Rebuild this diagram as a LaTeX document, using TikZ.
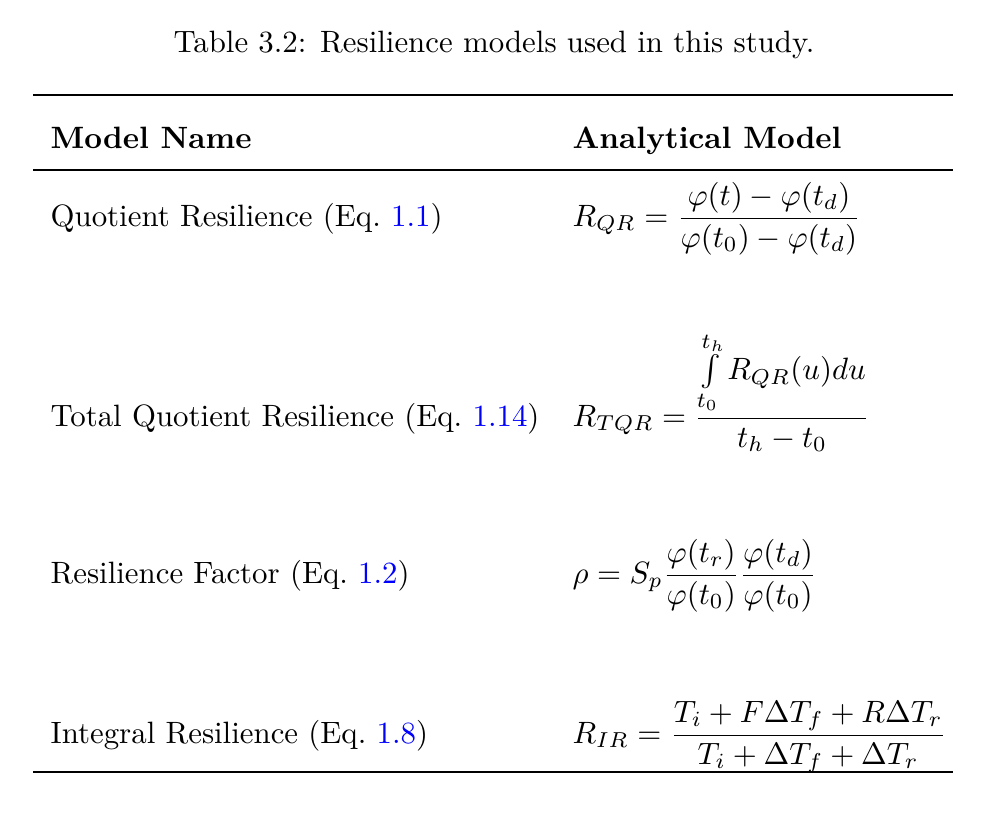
\documentclass[tikz,border=0pt]{standalone}
\usepackage{tikz}
\usepackage{amsmath,amssymb}
\usepackage{xcolor}
\usetikzlibrary{positioning}

\begin{document}
\begin{tikzpicture}[x=0.324pt,y=-0.324pt,
    cell/.style={anchor=base west, inner sep=0pt},
    eqref/.style={text=blue}]
      \useasboundingbox (0,0) rectangle (1001,819);
      \node[anchor=base, inner sep=0pt] (title) at (494,52) {Table 3.2: Resilience models used in this study.};
      % rules
      \coordinate (topl) at (33,95);   \coordinate (topr) at (953,95);
      \coordinate (midl) at (33,170);  \coordinate (midr) at (953,170);
      \coordinate (botl) at (33,772);  \coordinate (botr) at (953,772);
      \draw[line width=0.7pt] (topl) -- (topr);
      \draw[line width=0.45pt] (midl) -- (midr);
      \draw[line width=0.7pt] (botl) -- (botr);
      % header
      \node[cell] (hname) at (50,148) {\textbf{Model Name}};
      \node[cell] (hmodel) at (572,148) {\textbf{Analytical Model}};
      % model names
      \node[cell] (qr) at (50,226) {Quotient Resilience (Eq.~\textcolor{blue}{1.1})};
      \node[cell] (tqr) at (50,426) {Total Quotient Resilience (Eq.~\textcolor{blue}{1.14})};
      \node[cell] (rf) at (50,583) {Resilience Factor (Eq.~\textcolor{blue}{1.2})};
      \node[cell] (ir) at (50,743) {Integral Resilience (Eq.~\textcolor{blue}{1.8})};
      % models
      \node[cell] (qrm) at (572,226) {$R_{QR}=\dfrac{\varphi(t)-\varphi(t_d)}{\varphi(t_0)-\varphi(t_d)}$};
      \node[cell] (tqrm) at (572,426) {$R_{TQR}=\dfrac{\int\limits_{t_0}^{t_h}R_{QR}(u)du}{t_h-t_0}$};
      \node[cell] (rfm) at (572,583) {$\rho=S_p\dfrac{\varphi(t_r)}{\varphi(t_0)}\dfrac{\varphi(t_d)}{\varphi(t_0)}$};
      \node[cell] (irm) at (572,743) {$R_{IR}=\dfrac{T_i+F\Delta T_f+R\Delta T_r}{T_i+\Delta T_f+\Delta T_r}$};
    \end{tikzpicture}
\end{document}
